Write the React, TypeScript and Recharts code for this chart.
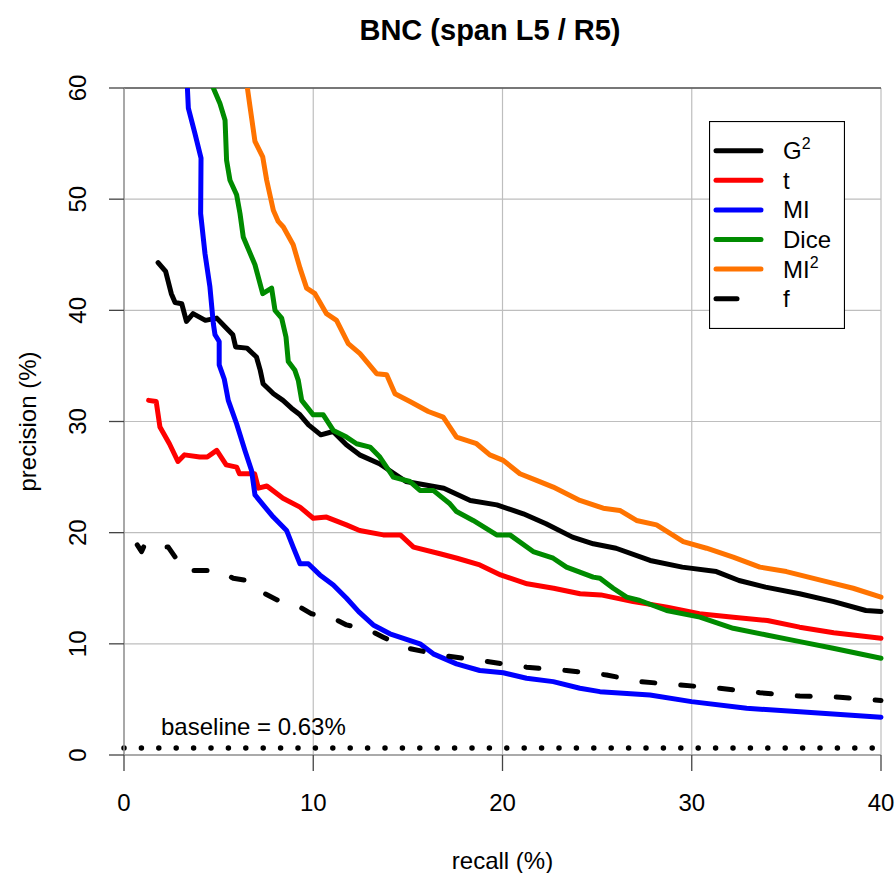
import React from 'react';
import {
  LineChart,
  Line,
  XAxis,
  YAxis,
  CartesianGrid,
  ReferenceLine,
  Legend,
  Label,
} from 'recharts';

// [recall %, precision %]
type Pt = [number, number];

const g2: Pt[] = [
  [1.8, 44.3], [2.2, 43.5], [2.5, 41.5], [2.7, 40.7], [3.05, 40.6], [3.3, 39.0],
  [3.65, 39.7], [4.3, 39.1], [4.9, 39.3], [5.35, 38.5], [5.75, 37.8], [5.9, 36.7],
  [6.5, 36.6], [7.0, 35.8], [7.2, 34.6], [7.35, 33.4], [7.9, 32.5], [8.4, 31.9],
  [8.85, 31.2], [9.3, 30.6], [9.75, 29.7], [10.4, 28.8], [11.05, 29.1], [11.75, 27.9],
  [12.45, 27.0], [13.5, 26.2], [14.9, 24.6], [16.9, 24.0], [18.3, 22.9], [19.7, 22.5],
  [21.1, 21.7], [22.3, 20.8], [23.7, 19.6], [24.8, 19.0], [26.0, 18.6], [27.8, 17.5],
  [29.5, 16.9], [31.3, 16.5], [32.5, 15.7], [33.9, 15.1], [35.7, 14.5], [37.5, 13.8],
  [39.2, 13.0], [40, 12.9],
];

const tScore: Pt[] = [
  [1.3, 31.9], [1.7, 31.8], [1.9, 29.5], [2.4, 28.0], [2.85, 26.4], [3.2, 27.0],
  [4.0, 26.8], [4.4, 26.8], [4.9, 27.4], [5.4, 26.1], [5.95, 25.9], [6.1, 25.3],
  [6.9, 25.3], [7.1, 24.0], [7.55, 24.2], [8.4, 23.1], [9.3, 22.3], [10.0, 21.3],
  [10.7, 21.4], [11.75, 20.7], [12.45, 20.2], [13.7, 19.8], [14.6, 19.8], [15.3, 18.7],
  [16.7, 18.1], [17.6, 17.7], [18.8, 17.1], [19.9, 16.2], [21.3, 15.4], [22.7, 15.0],
  [24.1, 14.5], [25.2, 14.4], [26.9, 13.8], [28.7, 13.3], [30.4, 12.7], [32.2, 12.4],
  [34.0, 12.1], [35.7, 11.5], [37.5, 11.0], [40, 10.5],
];

const mi: Pt[] = [
  [3.35, 60], [3.4, 58.2], [3.75, 55.9], [4.07, 53.7], [4.05, 48.7], [4.28, 45.1],
  [4.54, 42.1], [4.72, 38.8], [4.81, 37.8], [5.03, 37.2], [5.03, 35.1], [5.3, 33.8],
  [5.51, 31.9], [5.95, 29.8], [6.39, 27.4], [6.74, 25.6], [6.92, 23.4], [7.45, 22.3],
  [7.89, 21.4], [8.59, 20.2], [8.94, 18.7], [9.3, 17.2], [9.74, 17.2], [10.35, 16.2],
  [11.06, 15.3], [11.76, 14.1], [12.4, 12.9], [13.17, 11.7], [14.05, 10.9], [15.64, 10.0],
  [16.34, 9.1], [17.57, 8.2], [18.8, 7.6], [20.04, 7.4], [21.27, 6.9], [22.68, 6.6],
  [24.09, 6.0], [25.15, 5.7], [27.79, 5.4], [29.99, 4.8], [32.9, 4.2], [35.71, 3.9],
  [40, 3.4],
];

const dice: Pt[] = [
  [4.72, 60], [5.07, 58.6], [5.34, 57.1], [5.42, 53.5], [5.6, 51.7], [5.95, 50.4],
  [6.13, 48.7], [6.3, 46.6], [6.92, 44.1], [7.33, 41.5], [7.8, 42.0], [7.98, 40.0],
  [8.33, 39.3], [8.56, 37.6], [8.68, 35.4], [9.03, 34.6], [9.21, 33.7], [9.39, 31.9],
  [10.0, 30.6], [10.53, 30.6], [11.06, 29.2], [11.76, 28.6], [12.29, 28.0], [13.0, 27.7],
  [13.52, 26.8], [14.23, 25.0], [15.11, 24.6], [15.64, 23.8], [16.34, 23.8], [17.22, 22.6],
  [17.57, 21.9], [18.45, 21.1], [19.69, 19.8], [20.39, 19.8], [21.62, 18.3], [22.68, 17.7],
  [23.38, 16.9], [24.79, 16.0], [25.15, 15.9], [25.85, 15.0], [26.56, 14.2], [27.26, 13.9],
  [28.67, 13.0], [30.43, 12.4], [32.19, 11.4], [33.95, 10.8], [35.71, 10.2], [37.47, 9.6],
  [40, 8.7],
];

const mi2: Pt[] = [
  [6.52, 60], [6.66, 58.3], [6.92, 55.2], [7.33, 53.8], [7.54, 51.7], [7.89, 49.0],
  [8.15, 48.0], [8.42, 47.5], [8.94, 45.9], [9.3, 43.8], [9.65, 42.0], [10.09, 41.5],
  [10.7, 39.7], [11.23, 39.1], [11.85, 37.0], [12.47, 36.1], [13.35, 34.3], [13.88, 34.2],
  [14.32, 32.5], [15.11, 31.8], [16.08, 30.9], [16.87, 30.4], [17.57, 28.6], [18.63, 28.0],
  [19.33, 27.0], [20.04, 26.5], [20.92, 25.3], [21.8, 24.7], [22.68, 24.1], [24.09, 22.9],
  [25.32, 22.2], [26.2, 22.0], [27.08, 21.1], [28.14, 20.7], [29.55, 19.2], [30.78, 18.6],
  [32.19, 17.8], [33.6, 16.9], [35.0, 16.5], [37.12, 15.6], [38.53, 15.0], [40, 14.2],
];

const freq: Pt[] = [
  [0.7, 18.9], [0.93, 18.3], [1.11, 19.0], [1.72, 18.7], [2.34, 18.7], [2.87, 17.4],
  [3.22, 16.6], [4.45, 16.6], [4.98, 16.6], [5.77, 15.9], [6.48, 15.7], [7.45, 14.5],
  [8.15, 13.9], [9.3, 13.3], [9.91, 12.7], [11.06, 12.3], [11.76, 11.7], [13.0, 11.2],
  [13.7, 10.6], [14.75, 9.7], [16.69, 9.0], [18.8, 8.5], [21.27, 7.9], [23.38, 7.6],
  [25.5, 7.2], [27.26, 6.6], [29.37, 6.3], [31.48, 6.0], [33.6, 5.6], [35.71, 5.3],
  [37.82, 5.2], [40, 4.9],
];

const baseline = 0.63;
const xTicks = [0, 10, 20, 30, 40];
const yTicks = [0, 10, 20, 30, 40, 50, 60];

const FONT = '"Liberation Sans", Arial, Helvetica, sans-serif';

const series = [
  { key: 'g2', name: 'G', sup: '2', color: '#000000', data: g2, dash: undefined },
  { key: 't', name: 't', sup: '', color: '#ff0000', data: tScore, dash: undefined },
  { key: 'mi', name: 'MI', sup: '', color: '#0000ff', data: mi, dash: undefined },
  { key: 'dice', name: 'Dice', sup: '', color: '#008b00', data: dice, dash: undefined },
  { key: 'mi2', name: 'MI', sup: '2', color: '#ff7300', data: mi2, dash: undefined },
  { key: 'f', name: 'f', sup: '', color: '#000000', data: freq, dash: '13 26' },
];

const toRows = (pts: Pt[]) => pts.map(([recall, precision]) => ({ recall, precision }));

const YTick = (props: any) => {
  const { x, y, payload } = props;
  const bx = x - 21;
  return (
    <text
      x={bx}
      y={y}
      transform={`rotate(-90 ${bx} ${y})`}
      textAnchor="middle"
      fontSize={24}
      fontFamily={FONT}
      fill="#000"
    >
      {payload.value}
    </text>
  );
};

const XTick = (props: any) => {
  const { x, y, payload } = props;
  return (
    <text x={x} y={y} dy="0.71em" textAnchor="middle" fontSize={24} fontFamily={FONT} fill="#000">
      {payload.value}
    </text>
  );
};

const renderLegend = () => (
  <svg width={136} height={208} style={{ display: 'block' }}>
    <rect x={0.5} y={0.5} width={135} height={207} fill="#fff" stroke="#000" strokeWidth={1.2} />
    {series.map((s, i) => {
      const cy = 29.7 + i * 29.6;
      return (
        <g key={s.key}>
          <line
            x1={7}
            x2={s.dash ? 28 : 52}
            y1={cy}
            y2={cy}
            stroke={s.color}
            strokeWidth={5}
            strokeLinecap="round"
          />
          <text x={74} y={cy + 8.5} fontSize={24} fontFamily={FONT} fill="#000">
            {s.name}
            {s.sup && (
              <tspan fontSize={16} dy={-10}>
                {s.sup}
              </tspan>
            )}
          </text>
        </g>
      );
    })}
  </svg>
);

const renderBaselineLabel = (props: any) => {
  const vb = props.viewBox;
  return (
    <text x={vb.x + 37} y={vb.y - 13} fontSize={24} fontFamily={FONT} fill="#000">
      baseline = 0.63%
    </text>
  );
};

const renderYTitle = (props: any) => {
  const vb = props.viewBox;
  const cx = vb.x + 36;
  const cy = vb.y + vb.height / 2;
  return (
    <text
      x={cx}
      y={cy}
      transform={`rotate(-90 ${cx} ${cy})`}
      textAnchor="middle"
      fontSize={24}
      fontFamily={FONT}
      fill="#000"
    >
      precision (%)
    </text>
  );
};

const renderXTitle = (props: any) => {
  const vb = props.viewBox;
  return (
    <text
      x={vb.x + vb.width / 2}
      y={vb.y + vb.height - 4}
      textAnchor="middle"
      fontSize={24}
      fontFamily={FONT}
      fill="#000"
    >
      recall (%)
    </text>
  );
};

export default function App() {
  return (
    <div
      style={{
        position: 'absolute',
        left: 0,
        top: 0,
        width: 896,
        height: 873,
        background: '#fff',
        fontFamily: FONT,
      }}
    >
      <LineChart width={896} height={873} margin={{ top: 88, right: 15, bottom: 0, left: 0 }}>
        <CartesianGrid stroke="#bebebe" strokeWidth={1.2} />
        <XAxis
          dataKey="recall"
          type="number"
          domain={[0, 40]}
          ticks={xTicks}
          height={118}
          tickSize={16}
          tickMargin={23}
          tick={<XTick />}
          axisLine={{ stroke: '#999', strokeWidth: 1.5 }}
          tickLine={{ stroke: '#444', strokeWidth: 1.3 }}
        >
          <Label content={renderXTitle} />
        </XAxis>
        <YAxis
          type="number"
          domain={[0, 60]}
          ticks={yTicks}
          allowDataOverflow
          width={124}
          tickSize={15}
          tick={<YTick />}
          axisLine={{ stroke: '#999', strokeWidth: 1.5 }}
          tickLine={{ stroke: '#444', strokeWidth: 1.3 }}
        >
          <Label content={renderYTitle} />
        </YAxis>
        <ReferenceLine y={60} stroke="#555" strokeWidth={1.5} />
        <ReferenceLine
          y={baseline}
          stroke="#000"
          strokeWidth={5.5}
          strokeDasharray="0 17.4"
          strokeLinecap="round"
          label={renderBaselineLabel}
        />
        {series.map((s) => (
          <Line
            key={s.key}
            data={toRows(s.data)}
            dataKey="precision"
            type="linear"
            stroke={s.color}
            strokeWidth={5}
            strokeDasharray={s.dash}
            strokeLinecap="round"
            strokeLinejoin="round"
            dot={false}
            activeDot={false}
            isAnimationActive={false}
          />
        ))}
        <Legend
          layout="vertical"
          align="center"
          verticalAlign="middle"
          content={renderLegend}
          wrapperStyle={{ left: 709, top: 121, width: 136, height: 208 }}
        />
      </LineChart>
      <div
        style={{
          position: 'absolute',
          left: 490,
          top: 14,
          transform: 'translateX(-50%)',
          fontSize: 29,
          fontWeight: 700,
          whiteSpace: 'nowrap',
          color: '#000',
        }}
      >
        BNC (span L5 / R5)
      </div>
    </div>
  );
}
